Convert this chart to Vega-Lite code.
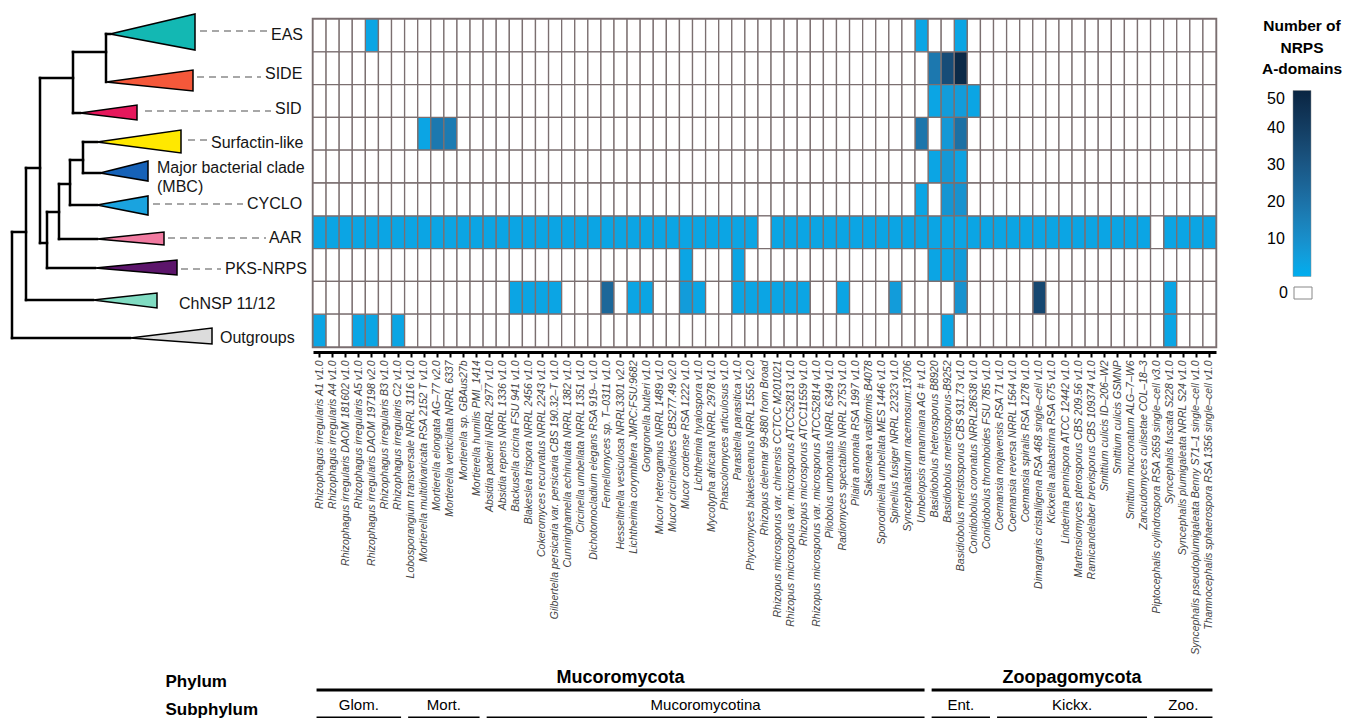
{
  "$schema": "https://vega.github.io/schema/vega-lite/v6.json",
  "background": "white",
  "padding": {"left": 0, "top": 11, "right": 0, "bottom": 0},
  "config": {"font": "Liberation Sans", "view": {"stroke": null}},
  "datasets": {
    "taxa": [
      {"i": 1, "t": "Rhizophagus irregularis A1 v1.0", "Phylum": "Mucoromycota", "Subphylum": "Glom.", "AAR": 3, "OUT": 3},
      {"i": 2, "t": "Rhizophagus irregularis A4 v1.0", "Phylum": "Mucoromycota", "Subphylum": "Glom.", "AAR": 3},
      {"i": 3, "t": "Rhizophagus irregularis DAOM 181602 v1.0", "Phylum": "Mucoromycota", "Subphylum": "Glom.", "AAR": 3},
      {"i": 4, "t": "Rhizophagus irregularis A5 v1.0", "Phylum": "Mucoromycota", "Subphylum": "Glom.", "AAR": 3, "OUT": 3},
      {"i": 5, "t": "Rhizophagus irregularis DAOM 197198 v2.0", "Phylum": "Mucoromycota", "Subphylum": "Glom.", "EAS": 3, "AAR": 3, "OUT": 3},
      {"i": 6, "t": "Rhizophagus irregularis B3 v1.0", "Phylum": "Mucoromycota", "Subphylum": "Glom.", "AAR": 3},
      {"i": 7, "t": "Rhizophagus irregularis C2 v1.0", "Phylum": "Mucoromycota", "Subphylum": "Glom.", "AAR": 3, "OUT": 3},
      {"i": 8, "t": "Lobosporangium transversale NRRL 3116 v1.0", "Phylum": "Mucoromycota", "Subphylum": "Mort.", "AAR": 3},
      {"i": 9, "t": "Mortierella multidivaricata RSA 2152 T v1.0", "Phylum": "Mucoromycota", "Subphylum": "Mort.", "SURF": 3, "AAR": 3},
      {"i": 10, "t": "Mortierella elongata AG–77 v2.0", "Phylum": "Mucoromycota", "Subphylum": "Mort.", "SURF": 18, "AAR": 3},
      {"i": 11, "t": "Mortierella verticillata NRRL 6337", "Phylum": "Mucoromycota", "Subphylum": "Mort.", "SURF": 17, "AAR": 3},
      {"i": 12, "t": "Mortierella sp. GBAus27b", "Phylum": "Mucoromycota", "Subphylum": "Mort.", "AAR": 3},
      {"i": 13, "t": "Mortierella humilis PMI_1414", "Phylum": "Mucoromycota", "Subphylum": "Mort.", "AAR": 3},
      {"i": 14, "t": "Absidia padenii NRRL 2977 v1.0", "Phylum": "Mucoromycota", "Subphylum": "Mucoromycotina", "AAR": 3},
      {"i": 15, "t": "Absidia repens NRRL 1336 v1.0", "Phylum": "Mucoromycota", "Subphylum": "Mucoromycotina", "AAR": 3},
      {"i": 16, "t": "Backusella circina FSU 941 v1.0", "Phylum": "Mucoromycota", "Subphylum": "Mucoromycotina", "AAR": 3, "CHNSP": 3},
      {"i": 17, "t": "Blakeslea trispora NRRL 2456 v1.0", "Phylum": "Mucoromycota", "Subphylum": "Mucoromycotina", "AAR": 3, "CHNSP": 3},
      {"i": 18, "t": "Cokeromyces recurvatus NRRL 2243 v1.0", "Phylum": "Mucoromycota", "Subphylum": "Mucoromycotina", "AAR": 3, "CHNSP": 3},
      {"i": 19, "t": "Gilbertella persicaria var. persicaria CBS 190.32–T v1.0", "Phylum": "Mucoromycota", "Subphylum": "Mucoromycotina", "AAR": 3, "CHNSP": 3},
      {"i": 20, "t": "Cunninghamella echinulata NRRL 1382 v1.0", "Phylum": "Mucoromycota", "Subphylum": "Mucoromycotina", "AAR": 3},
      {"i": 21, "t": "Circinella umbellata NRRL 1351 v1.0", "Phylum": "Mucoromycota", "Subphylum": "Mucoromycotina", "AAR": 3},
      {"i": 22, "t": "Dichotomocladium elegans RSA 919– v1.0", "Phylum": "Mucoromycota", "Subphylum": "Mucoromycotina", "AAR": 3},
      {"i": 23, "t": "Fennellomyces sp. T–0311 v1.0", "Phylum": "Mucoromycota", "Subphylum": "Mucoromycotina", "AAR": 3, "CHNSP": 24},
      {"i": 24, "t": "Hesseltinella vesiculosa NRRL3301 v2.0", "Phylum": "Mucoromycota", "Subphylum": "Mucoromycotina", "AAR": 3},
      {"i": 25, "t": "Lichtheimia corymbifera JMRC:FSU:9682", "Phylum": "Mucoromycota", "Subphylum": "Mucoromycotina", "AAR": 3, "CHNSP": 3},
      {"i": 26, "t": "Gongronella butleri v1.0", "Phylum": "Mucoromycota", "Subphylum": "Mucoromycotina", "AAR": 3, "CHNSP": 3},
      {"i": 27, "t": "Mucor heterogamus NRRL 1489 v1.0", "Phylum": "Mucoromycota", "Subphylum": "Mucoromycotina", "AAR": 3},
      {"i": 28, "t": "Mucor circinelloides CBS277.49 v2.0", "Phylum": "Mucoromycota", "Subphylum": "Mucoromycotina", "AAR": 3},
      {"i": 29, "t": "Mucor cordense RSA 1222 v1.0", "Phylum": "Mucoromycota", "Subphylum": "Mucoromycotina", "AAR": 3, "PKS": 3, "CHNSP": 6},
      {"i": 30, "t": "Lichtheimia hyalospora v1.0", "Phylum": "Mucoromycota", "Subphylum": "Mucoromycotina", "AAR": 3, "CHNSP": 3},
      {"i": 31, "t": "Mycotypha africana NRRL 2978 v1.0", "Phylum": "Mucoromycota", "Subphylum": "Mucoromycotina", "AAR": 3},
      {"i": 32, "t": "Phascolomyces articulosus v1.0", "Phylum": "Mucoromycota", "Subphylum": "Mucoromycotina", "AAR": 3},
      {"i": 33, "t": "Parasitella parasitica v1.0", "Phylum": "Mucoromycota", "Subphylum": "Mucoromycotina", "AAR": 3, "PKS": 3, "CHNSP": 3},
      {"i": 34, "t": "Phycomyces blakesleeanus NRRL 1555 v2.0", "Phylum": "Mucoromycota", "Subphylum": "Mucoromycotina", "AAR": 3, "CHNSP": 3},
      {"i": 35, "t": "Rhizopus delemar 99-880 from Broad", "Phylum": "Mucoromycota", "Subphylum": "Mucoromycotina", "CHNSP": 3},
      {"i": 36, "t": "Rhizopus microsporus var. chinensis CCTCC M201021", "Phylum": "Mucoromycota", "Subphylum": "Mucoromycotina", "AAR": 3, "CHNSP": 3},
      {"i": 37, "t": "Rhizopus microsporus var. microsporus ATCC52813 v1.0", "Phylum": "Mucoromycota", "Subphylum": "Mucoromycotina", "AAR": 3, "CHNSP": 3},
      {"i": 38, "t": "Rhizopus microsporus ATCC11559 v1.0", "Phylum": "Mucoromycota", "Subphylum": "Mucoromycotina", "AAR": 3, "CHNSP": 3},
      {"i": 39, "t": "Rhizopus microsporus var. microsporus ATCC52814 v1.0", "Phylum": "Mucoromycota", "Subphylum": "Mucoromycotina", "AAR": 3},
      {"i": 40, "t": "Pilobolus umbonatus NRRL 6349 v1.0", "Phylum": "Mucoromycota", "Subphylum": "Mucoromycotina", "AAR": 3},
      {"i": 41, "t": "Radiomyces spectabilis NRRL 2753 v1.0", "Phylum": "Mucoromycota", "Subphylum": "Mucoromycotina", "AAR": 3, "CHNSP": 3},
      {"i": 42, "t": "Pilaira anomala RSA 1997 v1.0", "Phylum": "Mucoromycota", "Subphylum": "Mucoromycotina", "AAR": 3},
      {"i": 43, "t": "Saksenaea vasiformis B4078", "Phylum": "Mucoromycota", "Subphylum": "Mucoromycotina", "AAR": 3},
      {"i": 44, "t": "Sporodiniella umbellata MES 1446 v1.0", "Phylum": "Mucoromycota", "Subphylum": "Mucoromycotina", "AAR": 3},
      {"i": 45, "t": "Spinellus fusiger NRRL 22323 v1.0", "Phylum": "Mucoromycota", "Subphylum": "Mucoromycotina", "AAR": 3, "CHNSP": 6},
      {"i": 46, "t": "Syncephalastrum racemosum:13706", "Phylum": "Mucoromycota", "Subphylum": "Mucoromycotina", "AAR": 3},
      {"i": 47, "t": "Umbelopsis ramanniana AG # v1.0", "Phylum": "Mucoromycota", "Subphylum": "Mucoromycotina", "EAS": 3, "SURF": 19, "CYCLO": 3, "AAR": 3},
      {"i": 48, "t": "Basidiobolus heterosporus B8920", "Phylum": "Zoopagomycota", "Subphylum": "Ent.", "SIDE": 18, "SID": 3, "MBC": 3, "AAR": 3, "PKS": 3},
      {"i": 49, "t": "Basidiobolus meristosporus-B9252", "Phylum": "Zoopagomycota", "Subphylum": "Ent.", "SIDE": 34, "SID": 6, "SURF": 7, "MBC": 7, "CYCLO": 8, "AAR": 3, "PKS": 3, "OUT": 3},
      {"i": 50, "t": "Basidiobolus meristosporus CBS 931.73 v1.0", "Phylum": "Zoopagomycota", "Subphylum": "Ent.", "EAS": 3, "SIDE": 48, "SID": 6, "SURF": 21, "MBC": 4, "CYCLO": 9, "AAR": 3, "PKS": 6, "CHNSP": 9},
      {"i": 51, "t": "Conidiobolus coronatus NRRL28638 v1.0", "Phylum": "Zoopagomycota", "Subphylum": "Ent.", "SID": 3, "AAR": 3},
      {"i": 52, "t": "Conidiobolus thromboides FSU 785 v1.0", "Phylum": "Zoopagomycota", "Subphylum": "Ent.", "AAR": 3},
      {"i": 53, "t": "Coemansia mojavensis RSA 71 v1.0", "Phylum": "Zoopagomycota", "Subphylum": "Kickx.", "AAR": 3},
      {"i": 54, "t": "Coemansia reversa NRRL 1564 v1.0", "Phylum": "Zoopagomycota", "Subphylum": "Kickx.", "AAR": 3},
      {"i": 55, "t": "Coemansia spiralis RSA 1278 v1.0", "Phylum": "Zoopagomycota", "Subphylum": "Kickx.", "AAR": 3},
      {"i": 56, "t": "Dimargaris cristalligena RSA 468 single–cell v1.0", "Phylum": "Zoopagomycota", "Subphylum": "Kickx.", "AAR": 3, "CHNSP": 36},
      {"i": 57, "t": "Kickxella alabastrina RSA 675 v1.0", "Phylum": "Zoopagomycota", "Subphylum": "Kickx.", "AAR": 3},
      {"i": 58, "t": "Linderina pennispora ATCC 12442 v1.0", "Phylum": "Zoopagomycota", "Subphylum": "Kickx.", "AAR": 3},
      {"i": 59, "t": "Martensiomyces pterosporus CBS 209.56 v1.0", "Phylum": "Zoopagomycota", "Subphylum": "Kickx.", "AAR": 3},
      {"i": 60, "t": "Ramicandelaber brevisporus CBS 109374 v1.0", "Phylum": "Zoopagomycota", "Subphylum": "Kickx.", "AAR": 3},
      {"i": 61, "t": "Smittium culicis ID–206–W2", "Phylum": "Zoopagomycota", "Subphylum": "Kickx.", "AAR": 3},
      {"i": 62, "t": "Smittium culicis GSMNP", "Phylum": "Zoopagomycota", "Subphylum": "Kickx.", "AAR": 3},
      {"i": 63, "t": "Smittium mucronatum ALG–7–W6", "Phylum": "Zoopagomycota", "Subphylum": "Kickx.", "AAR": 3},
      {"i": 64, "t": "Zancudomyces culisetae COL–18–3", "Phylum": "Zoopagomycota", "Subphylum": "Kickx.", "AAR": 3},
      {"i": 65, "t": "Piptocephalis cylindrospora RSA 2659 single–cell v3.0", "Phylum": "Zoopagomycota", "Subphylum": "Zoo."},
      {"i": 66, "t": "Syncephalis fuscata S228 v1.0", "Phylum": "Zoopagomycota", "Subphylum": "Zoo.", "AAR": 3, "CHNSP": 3, "OUT": 3},
      {"i": 67, "t": "Syncephalis plumigaleata NRRL S24 v1.0", "Phylum": "Zoopagomycota", "Subphylum": "Zoo.", "AAR": 3},
      {"i": 68, "t": "Syncephalis pseudoplumigaleata Benny S71–1 single–cell v1.0", "Phylum": "Zoopagomycota", "Subphylum": "Zoo.", "AAR": 3},
      {"i": 69, "t": "Thamnocephalis sphaerospora RSA 1356 single–cell v1.0", "Phylum": "Zoopagomycota", "Subphylum": "Zoo.", "AAR": 3}
    ],
    "branches": [
      {"x": 12, "y": 230, "x2": 12, "y2": 336},
      {"x": 12, "y": 230, "x2": 26, "y2": 230},
      {"x": 12, "y": 336, "x2": 130, "y2": 336},
      {"x": 26, "y": 166, "x2": 26, "y2": 298},
      {"x": 26, "y": 166, "x2": 40, "y2": 166},
      {"x": 26, "y": 298, "x2": 93, "y2": 298},
      {"x": 40, "y": 76, "x2": 40, "y2": 241},
      {"x": 40, "y": 76, "x2": 73, "y2": 76},
      {"x": 40, "y": 241, "x2": 47, "y2": 241},
      {"x": 73, "y": 50, "x2": 73, "y2": 111},
      {"x": 73, "y": 50, "x2": 106, "y2": 50},
      {"x": 73, "y": 111, "x2": 80, "y2": 111},
      {"x": 106, "y": 32, "x2": 106, "y2": 80},
      {"x": 106, "y": 32, "x2": 110, "y2": 32},
      {"x": 47, "y": 210, "x2": 47, "y2": 266},
      {"x": 47, "y": 210, "x2": 59, "y2": 210},
      {"x": 47, "y": 266, "x2": 95, "y2": 266},
      {"x": 59, "y": 182, "x2": 59, "y2": 237},
      {"x": 59, "y": 182, "x2": 70, "y2": 182},
      {"x": 59, "y": 237, "x2": 97, "y2": 237},
      {"x": 70, "y": 158, "x2": 70, "y2": 203},
      {"x": 70, "y": 158, "x2": 83, "y2": 158},
      {"x": 70, "y": 203, "x2": 97, "y2": 203},
      {"x": 83, "y": 140, "x2": 83, "y2": 171},
      {"x": 83, "y": 140, "x2": 97, "y2": 140},
      {"x": 83, "y": 171, "x2": 100, "y2": 171}
    ],
    "wedges": [
      {"clade": "EAS", "x": 110, "y": 32, "y2": 32}, {"clade": "EAS", "x": 195, "y": 12, "y2": 48},
      {"clade": "SIDE", "x": 106, "y": 80, "y2": 80}, {"clade": "SIDE", "x": 193, "y": 68, "y2": 89},
      {"clade": "SID", "x": 80, "y": 111, "y2": 111}, {"clade": "SID", "x": 137, "y": 103, "y2": 118},
      {"clade": "Surfactin-like", "x": 97, "y": 140, "y2": 140}, {"clade": "Surfactin-like", "x": 181, "y": 128, "y2": 151},
      {"clade": "MBC", "x": 100, "y": 171, "y2": 171}, {"clade": "MBC", "x": 148, "y": 159, "y2": 179},
      {"clade": "CYCLO", "x": 97, "y": 203, "y2": 203}, {"clade": "CYCLO", "x": 148, "y": 194, "y2": 213},
      {"clade": "AAR", "x": 97, "y": 237, "y2": 237}, {"clade": "AAR", "x": 164, "y": 230, "y2": 243},
      {"clade": "PKS-NRPS", "x": 95, "y": 266, "y2": 266}, {"clade": "PKS-NRPS", "x": 177, "y": 258, "y2": 273},
      {"clade": "ChNSP 11/12", "x": 93, "y": 298, "y2": 298}, {"clade": "ChNSP 11/12", "x": 157, "y": 291, "y2": 306},
      {"clade": "Outgroups", "x": 130, "y": 336, "y2": 336}, {"clade": "Outgroups", "x": 212, "y": 326, "y2": 342}
    ],
    "dashes": [
      {"x": 200, "x2": 268, "y": 29},
      {"x": 197, "x2": 261, "y": 75},
      {"x": 145, "x2": 271, "y": 109},
      {"x": 188, "x2": 207, "y": 138},
      {"x": 153, "x2": 243, "y": 202},
      {"x": 168, "x2": 266, "y": 236},
      {"x": 181, "x2": 221, "y": 267}
    ],
    "labels": [
      {"label": "EAS", "x": 271, "y": 33},
      {"label": "SIDE", "x": 265, "y": 72},
      {"label": "SID", "x": 275, "y": 107},
      {"label": "Surfactin-like", "x": 211, "y": 141},
      {"label": "Major bacterial clade", "x": 157, "y": 166},
      {"label": "(MBC)", "x": 157, "y": 185},
      {"label": "CYCLO", "x": 247, "y": 202},
      {"label": "AAR", "x": 269, "y": 236},
      {"label": "PKS-NRPS", "x": 225, "y": 267},
      {"label": "ChNSP 11/12", "x": 179, "y": 302},
      {"label": "Outgroups", "x": 220, "y": 336}
    ]
  },
  "columns": 2,
  "bounds": "flush",
  "align": "each",
  "spacing": {"row": 321, "column": 13},
  "resolve": {"scale": {"x": "independent", "y": "independent", "color": "independent", "fill": "independent"}},
  "concat": [
    {
      "width": 300,
      "height": 328,
      "view": {"stroke": null},
      "layer": [
        {
          "data": {"name": "branches"},
          "mark": {"type": "rule", "color": "black", "strokeWidth": 2.5, "strokeCap": "square"},
          "encoding": {
            "x": {"field": "x", "type": "quantitative", "scale": {"domain": [0, 300], "nice": false, "zero": false}, "axis": null},
            "x2": {"field": "x2"},
            "y": {"field": "y", "type": "quantitative", "scale": {"domain": [17, 345], "reverse": true, "nice": false, "zero": false}, "axis": null},
            "y2": {"field": "y2"}
          }
        },
        {
          "data": {"name": "wedges"},
          "mark": {"type": "area", "stroke": "black", "strokeWidth": 1.5, "strokeJoin": "miter", "fillOpacity": 1},
          "encoding": {
            "x": {"field": "x", "type": "quantitative", "axis": null},
            "y": {"field": "y", "type": "quantitative", "axis": null},
            "y2": {"field": "y2"},
            "color": {
              "field": "clade", "type": "nominal", "legend": null,
              "scale": {
                "domain": ["EAS", "SIDE", "SID", "Surfactin-like", "MBC", "CYCLO", "AAR", "PKS-NRPS", "ChNSP 11/12", "Outgroups"],
                "range": ["#13b8b3", "#f5583a", "#e6185c", "#ffe800", "#1662b8", "#1aa3df", "#f17aa0", "#5c156b", "#80dcc2", "#dcdcdc"]
              }
            }
          }
        },
        {
          "data": {"name": "dashes"},
          "mark": {"type": "rule", "color": "#8a8a8a", "strokeWidth": 1.5, "strokeDash": [7, 5]},
          "encoding": {
            "x": {"field": "x", "type": "quantitative", "axis": null},
            "x2": {"field": "x2"},
            "y": {"field": "y", "type": "quantitative", "axis": null}
          }
        },
        {
          "data": {"name": "labels"},
          "mark": {"type": "text", "align": "left", "baseline": "middle", "font": "Liberation Sans", "fontSize": 16, "color": "#151515"},
          "encoding": {
            "x": {"field": "x", "type": "quantitative", "axis": null},
            "y": {"field": "y", "type": "quantitative", "axis": null},
            "text": {"field": "label"}
          }
        }
      ]
    },
    {
      "width": 903,
      "height": 328,
      "view": {"stroke": "#7b6f70", "strokeWidth": 2.5},
      "data": {"name": "taxa"},
      "transform": [{"fold": ["EAS", "SIDE", "SID", "SURF", "MBC", "CYCLO", "AAR", "PKS", "CHNSP", "OUT"], "as": ["clade", "n"]}],
      "layer": [
        {
          "transform": [{"filter": "datum.n > 0"}],
          "mark": {"type": "rect", "stroke": "#7b6f70", "strokeWidth": 1.3},
          "encoding": {
            "x": {
              "field": "t", "type": "nominal", "sort": {"field": "i", "op": "min"},
              "axis": {
                "title": null, "orient": "bottom", "offset": 5,
                "domainColor": "black", "domainWidth": 3,
                "tickColor": "black", "tickWidth": 2, "tickSize": 5,
                "labelAngle": -90, "labelAlign": "right", "labelBaseline": "middle", "labelPadding": 3,
                "labelFont": "Liberation Sans", "labelFontStyle": "italic", "labelFontSize": 10.5,
                "labelColor": "#444", "labelLimit": 400
              }
            },
            "y": {"field": "clade", "type": "nominal", "sort": ["EAS", "SIDE", "SID", "SURF", "MBC", "CYCLO", "AAR", "PKS", "CHNSP", "OUT"], "axis": null},
            "color": {
              "field": "n", "type": "quantitative",
              "scale": {"domain": [0, 50], "range": ["#00AEEF", "#0A2542"]},
              "legend": {
                "title": ["Number of", "NRPS", "A-domains"],
                "orient": "right", "offset": 46, "direction": "vertical",
                "titleFont": "Liberation Sans", "titleFontSize": 15.5, "titleFontWeight": "bold", "titleColor": "black",
                "titleAlign": "center", "titleAnchor": "middle", "titleLineHeight": 21.5, "titlePadding": 13,
                "gradientLength": 186, "gradientThickness": 18, "gradientStrokeColor": "#888", "gradientStrokeWidth": 0.5,
                "values": [10, 20, 30, 40, 50],
                "labelFont": "Liberation Sans", "labelFontSize": 16, "labelColor": "black",
                "labelAlign": "left", "labelBaseline": "middle", "labelOffset": -44
              }
            }
          }
        },
        {
          "transform": [{"filter": "!(datum.n > 0)"}],
          "mark": {"type": "rect", "stroke": "#7b6f70", "strokeWidth": 1.3},
          "encoding": {
            "x": {"field": "t", "type": "nominal", "sort": {"field": "i", "op": "min"}},
            "y": {"field": "clade", "type": "nominal", "sort": ["EAS", "SIDE", "SID", "SURF", "MBC", "CYCLO", "AAR", "PKS", "CHNSP", "OUT"]},
            "fill": {
              "datum": "0", "type": "nominal",
              "scale": {"range": ["white"]},
              "legend": {
                "title": null, "orient": "right", "offset": 46,
                "symbolType": "M-1.5,-1H1.5V1H-1.5Z", "symbolSize": 144, "symbolOffset": 33,
                "symbolStrokeColor": "#888", "symbolStrokeWidth": 1, "symbolFillColor": "white",
                "labelFont": "Liberation Sans", "labelFontSize": 16, "labelColor": "black",
                "labelAlign": "right", "labelOffset": -23
              }
            }
          }
        }
      ]
    },
    {
      "width": 300,
      "height": 56,
      "view": {"stroke": null},
      "data": {"values": [{}]},
      "mark": {"type": "text", "text": ""},
      "encoding": {}
    },
    {
      "width": 903,
      "height": 56,
      "view": {"stroke": null},
      "data": {"name": "taxa"},
      "transform": [
        {"fold": ["Phylum", "Subphylum"], "as": ["level", "group"]},
        {"aggregate": [{"op": "min", "field": "i", "as": "lo"}, {"op": "max", "field": "i", "as": "hi"}, {"op": "mean", "field": "i", "as": "mid"}], "groupby": ["level", "group"]}
      ],
      "encoding": {
        "y": {
          "field": "level", "type": "nominal", "sort": ["Phylum", "Subphylum"],
          "axis": {
            "title": null, "domain": false, "ticks": false, "tickSize": 0,
            "labelAlign": "left", "labelPadding": 148, "labelOffset": 0,
            "labelFont": "Liberation Sans", "labelFontSize": 17, "labelFontWeight": "bold", "labelColor": "black"
          }
        }
      },
      "layer": [
        {
          "mark": {"type": "rule", "color": "black", "strokeWidth": 3, "xOffset": -3, "x2Offset": 3, "yOffset": 8},
          "encoding": {
            "x": {"field": "lo", "type": "quantitative", "scale": {"domain": [0.5, 69.5], "nice": false, "zero": false}, "axis": null},
            "x2": {"field": "hi"}
          }
        },
        {
          "transform": [{"filter": "datum.level === 'Phylum'"}],
          "mark": {"type": "text", "font": "Liberation Sans", "fontSize": 18, "fontWeight": "bold", "color": "black", "baseline": "middle", "dy": -4},
          "encoding": {
            "x": {"field": "mid", "type": "quantitative", "axis": null},
            "text": {"field": "group"}
          }
        },
        {
          "transform": [{"filter": "datum.level === 'Subphylum'"}],
          "mark": {"type": "text", "font": "Liberation Sans", "fontSize": 15, "color": "black", "baseline": "middle", "dy": -5},
          "encoding": {
            "x": {"field": "mid", "type": "quantitative", "axis": null},
            "text": {"field": "group"}
          }
        }
      ]
    }
  ]
}
